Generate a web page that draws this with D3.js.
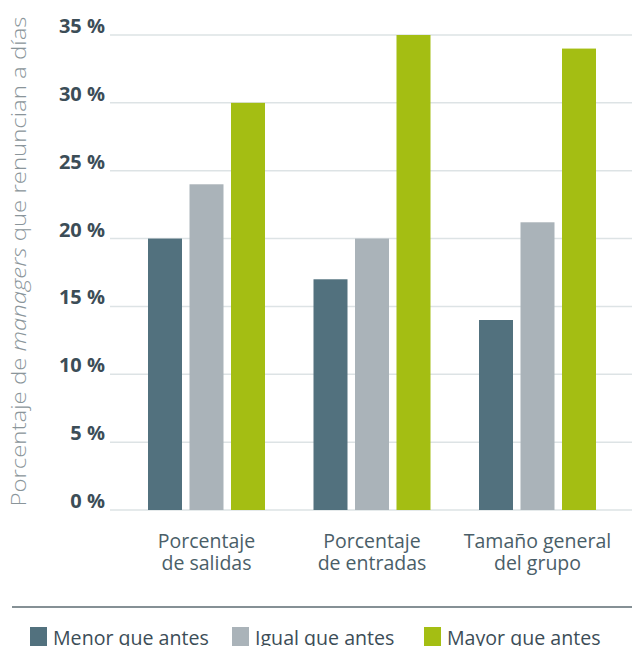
<!DOCTYPE html>
<html>
<head>
<meta charset="utf-8">
<script src="https://cdn.jsdelivr.net/npm/d3@7"></script>
<style>
  html, body { margin: 0; padding: 0; background: #ffffff; }
  svg { display: block; }
  text { font-family: "Open Sans", "Noto Sans", sans-serif; }
</style>
</head>
<body>
<script>
// ---- Data ----
const categories = [["Porcentaje", "de salidas"], ["Porcentaje", "de entradas"], ["Tamaño general", "del grupo"]];
const seriesNames = ["Menor que antes", "Igual que antes", "Mayor que antes"];
const menorValues = [20, 17, 14];
const igualValues = [24, 20, 21.2];
const mayorValues = [30, 35, 34];
const yTicks = [0, 5, 10, 15, 20, 25, 30, 35];
const seriesColors = ["#52717e", "#aab3b9", "#a4be13"];

const W = 632, H = 646;
const svg = d3.select("body").append("svg").attr("width", W).attr("height", H);

const y = d3.scaleLinear().domain([0, 35]).range([510, 35]);
const x0 = d3.scaleBand().domain(d3.range(categories.length)).range([123.75, 620.25]).paddingInner(0).paddingOuter(0);
const innerW = 117;
const x1 = d3.scaleBand().domain(d3.range(seriesNames.length)).range([0, innerW]).paddingInner(15 / 83).paddingOuter(0);
const groupX = i => x0(i) + (x0.bandwidth() - innerW) / 2;
const groupC = i => x0(i) + x0.bandwidth() / 2;

// gridlines
svg.append("g").selectAll("line").data(yTicks).join("line")
  .attr("x1", 110).attr("x2", 632)
  .attr("y1", d => y(d)).attr("y2", d => y(d))
  .attr("stroke", "#dde3e5").attr("stroke-width", 1.5);

// tick labels
svg.append("g").selectAll("text").data(yTicks).join("text")
  .attr("x", 105).attr("y", d => y(d) - 2)
  .attr("text-anchor", "end")
  .attr("font-size", 20).attr("font-weight", 700)
  .attr("fill", "#3c4d57")
  .text(d => d + " %");

// bars
const all = [menorValues, igualValues, mayorValues];
const groups = svg.append("g").selectAll("g").data(categories).join("g")
  .attr("transform", (d, i) => `translate(${groupX(i)},0)`);
groups.selectAll("rect").data((d, i) => all.map((s, j) => ({ j, v: s[i] }))).join("rect")
  .attr("x", d => x1(d.j)).attr("width", x1.bandwidth())
  .attr("y", d => y(d.v)).attr("height", d => y(0) - y(d.v))
  .attr("fill", d => seriesColors[d.j]);

// category labels (one text per line)
const catG = svg.append("g");
categories.forEach((lines, i) => {
  const cx = groupC(i);
  lines.forEach((ln, k) => catG.append("text").attr("text-anchor", "middle")
    .attr("font-size", 19.5).attr("fill", "#4a5e68")
    .attr("x", cx).attr("y", 548 + k * 22).text(ln));
});

// y-axis title
const yt = svg.append("text")
  .attr("transform", "translate(26,261.5) rotate(-90)")
  .attr("text-anchor", "middle")
  .attr("font-size", 20.5).attr("font-weight", 300)
  .attr("textLength", 490).attr("lengthAdjust", "spacingAndGlyphs")
  .attr("fill", "#8a959a");
yt.append("tspan").text("Porcentaje de ");
yt.append("tspan").attr("font-style", "italic").text("managers");
yt.append("tspan").text(" que renuncian a días");

// separator
svg.append("line").attr("x1", 12).attr("x2", 632).attr("y1", 607).attr("y2", 607)
  .attr("stroke", "#5c6b72").attr("stroke-width", 1.5);

// legend
const legX = [30, 232, 424];
const leg = svg.append("g").selectAll("g").data(seriesNames).join("g")
  .attr("transform", (d, i) => `translate(${legX[i]},0)`);
leg.append("rect").attr("x", 0).attr("y", 627).attr("width", 17).attr("height", 19)
  .attr("fill", (d, i) => seriesColors[i]);
leg.append("text").attr("x", 23).attr("y", 644.5)
  .attr("font-size", 19.6).attr("fill", "#3c4d57")
  .text(d => d);
</script>
</body>
</html>
